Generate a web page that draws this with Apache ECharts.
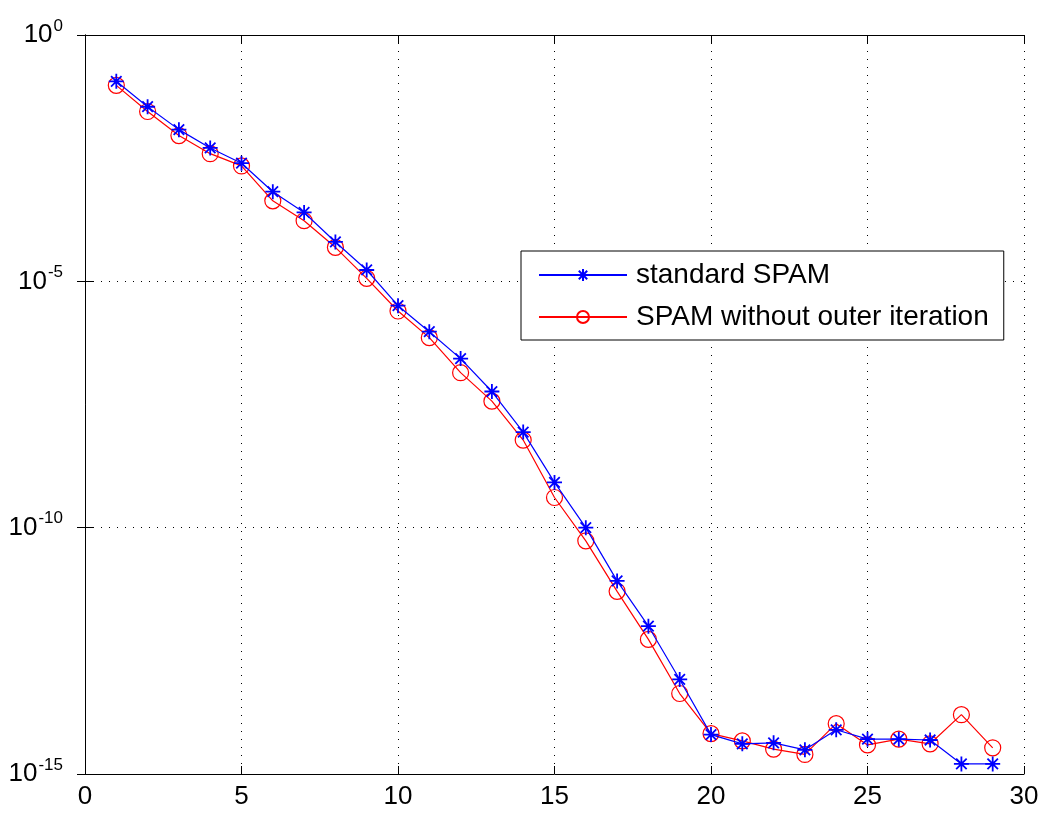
<!DOCTYPE html>
<html>
<head>
<meta charset="utf-8">
<script src="https://cdn.jsdelivr.net/npm/echarts@6/dist/echarts.min.js"></script>
<style>
  html, body { margin: 0; padding: 0; background: #fff; }
  #chart { width: 1043px; height: 816px; }
</style>
</head>
<body>
<div id="chart"></div>
<script>
// iteration number on x axis
const iterations = [1, 2, 3, 4, 5, 6, 7, 8, 9, 10, 11, 12, 13, 14, 15, 16, 17, 18, 19, 20, 21, 22, 23, 24, 25, 26, 27, 28, 29]

// residual values
const standardSpam = [
  1.15e-1, 3.5e-2, 1.2e-2, 5.1e-3, 2.5e-3, 6.6e-4, 2.5e-4, 6.3e-5, 1.7e-5, 3.2e-6,
  9.5e-7, 2.7e-7, 5.8e-8, 8.7e-9, 8.3e-10, 1.0e-10, 8.3e-12, 1.0e-12, 8.3e-14, 6.3e-15,
  4.1e-15, 4.3e-15, 3.1e-15, 7.9e-15, 5.1e-15, 5.1e-15, 4.9e-15, 1.6e-15, 1.6e-15
]
const spamNoOuter = [
  9.5e-2, 2.8e-2, 9.1e-3, 3.9e-3, 2.2e-3, 4.3e-4, 1.7e-4, 4.9e-5, 1.15e-5, 2.5e-6,
  7.2e-7, 1.4e-7, 3.7e-8, 6.0e-9, 4.1e-10, 5.4e-11, 5.1e-12, 5.4e-13, 4.3e-14, 6.6e-15,
  4.7e-15, 3.2e-15, 2.5e-15, 1.05e-14, 3.9e-15, 5.1e-15, 4.1e-15, 1.6e-14, 3.4e-15
]

const seriesNames = ['standard SPAM', 'SPAM without outer iteration']

const font = 'Liberation Sans, Arial, sans-serif'
const starPath = 'path://M0,-6L0,6M-6,0L6,0M-4.2,-4.2L4.2,4.2M-4.2,4.2L4.2,-4.2'

const chart = echarts.init(document.getElementById('chart'))

const dotted = { color: '#000', width: 1, type: [1, 7] }
const boxLine = { show: true, lineStyle: { color: '#000', width: 1 } }

chart.setOption({
  backgroundColor: '#fff',
  animation: false,
  grid: { left: 85, right: 19, top: 35, bottom: 42 },
  legend: {
    orient: 'vertical',
    left: 521,
    top: 251,
    padding: [10, 15, 9, 17],
    itemWidth: 88,
    itemHeight: 15,
    itemGap: 14,
    borderColor: '#000',
    borderWidth: 1,
    backgroundColor: '#fff',
    textStyle: { fontFamily: font, fontSize: 28, color: '#000', padding: [0, 0, 0, 4] },
    data: seriesNames
  },
  xAxis: [{
    type: 'value',
    min: 0,
    max: 30,
    interval: 5,
    position: 'bottom',
    axisLine: boxLine,
    axisTick: { inside: true, length: 8, lineStyle: { color: '#000' } },
    axisLabel: { fontFamily: font, fontSize: 26, color: '#000', margin: 10 },
    splitLine: { show: true, lineStyle: dotted }
  }, {
    type: 'value',
    min: 0,
    max: 30,
    interval: 5,
    position: 'top',
    axisLine: boxLine,
    axisTick: { inside: true, length: 8, lineStyle: { color: '#000' } },
    axisLabel: { show: false },
    splitLine: { show: false }
  }],
  yAxis: [{
    type: 'log',
    logBase: 10,
    min: 1e-15,
    max: 1,
    interval: 5,
    position: 'left',
    axisLine: boxLine,
    axisTick: { inside: true, length: 8, lineStyle: { color: '#000' } },
    axisLabel: {
      margin: 22,
      formatter: v => '{b|10}{s|' + Math.round(Math.log10(v)) + '}',
      rich: {
        b: { fontFamily: font, fontSize: 26, color: '#000' },
        s: { fontFamily: font, fontSize: 17, color: '#000', padding: [0, 0, 18, 1] }
      }
    },
    splitLine: { show: true, lineStyle: dotted }
  }, {
    type: 'log',
    logBase: 10,
    min: 1e-15,
    max: 1,
    interval: 5,
    position: 'right',
    axisLine: boxLine,
    axisTick: { inside: true, length: 8, lineStyle: { color: '#000' } },
    axisLabel: { show: false },
    splitLine: { show: false }
  }],
  series: [{
    name: seriesNames[0],
    type: 'line',
    data: iterations.map((x, i) => [x, standardSpam[i]]),
    symbol: starPath,
    symbolSize: 15,
    itemStyle: { color: '#0000ff', borderColor: '#0000ff', borderWidth: 1.8 },
    lineStyle: { color: '#0000ff', width: 1.2 },
    z: 3
  }, {
    name: seriesNames[1],
    type: 'line',
    data: iterations.map((x, i) => [x, spamNoOuter[i]]),
    symbol: 'circle',
    symbolSize: 16,
    itemStyle: { color: 'rgba(0,0,0,0)', borderColor: '#ff0000', borderWidth: 1.2 },
    lineStyle: { color: '#ff0000', width: 1.2 },
    z: 2
  }]
})
</script>
</body>
</html>
